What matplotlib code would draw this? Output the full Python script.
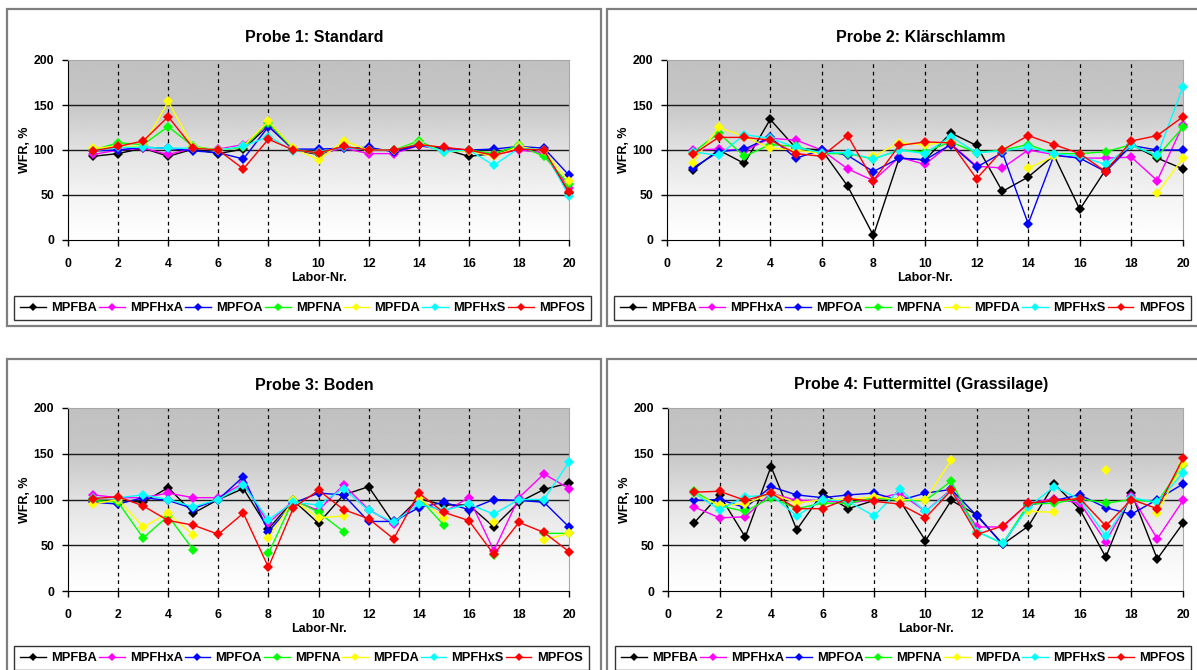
import numpy as np
import matplotlib
matplotlib.use('Agg')
import matplotlib.pyplot as plt
from matplotlib.patches import Rectangle
from matplotlib.lines import Line2D

plt.rcParams['font.family'] = ['Liberation Sans', 'DejaVu Sans']
plt.rcParams['font.weight'] = 'bold'

nan = np.nan

# -------------------------------
# Data
# -------------------------------
labs = list(range(1, 21))
series_names = ['MPFBA', 'MPFHxA', 'MPFOA', 'MPFNA', 'MPFDA', 'MPFHxS', 'MPFOS']
series_colors = ['#000000', '#ff00ff', '#0000ff', '#00ff00', '#ffff00', '#00ffff', '#ff0000']
titles = ['Probe 1: Standard', 'Probe 2: Klärschlamm', 'Probe 3: Boden',
          'Probe 4: Futtermittel (Grassilage)']
x_ticks = [0, 2, 4, 6, 8, 10, 12, 14, 16, 18, 20]
y_ticks = [0, 50, 100, 150, 200]

# Probe 1: Standard
p1_mpfba = [93, 96, 102, 93, 101, 96, 101, 127, 100, 95, 103, 100, 100, 105, 101, 93, 96, 104, 98, 52]
p1_mpfhxa = [95, 100, 102, 95, 102, 101, 106, 127, 100, 96, 102, 96, 96, 105, 100, 99, 95, 100, 97, 58]
p1_mpfoa = [99, 100, 103, 102, 99, 97, 90, 126, 101, 101, 102, 103, 98, 105, 102, 100, 101, 104, 102, 72]
p1_mpfna = [100, 108, 106, 126, 104, 100, 103, 130, 101, 96, 104, 100, 100, 110, 98, 100, 96, 105, 93, 62]
p1_mpfda = [102, 104, 104, 154, 103, 100, 104, 132, 102, 89, 110, 100, 100, 108, 98, 99, 93, 104, 99, 65]
p1_mpfhxs = [99, 103, 103, 102, 102, 100, 104, 115, 99, 98, 103, 100, 100, 107, 98, 100, 83, 102, 100, 49]
p1_mpfos = [99, 104, 110, 137, 102, 100, 79, 112, 100, 97, 104, 100, 100, 106, 103, 100, 94, 101, 100, 53]

# Probe 2: Klärschlamm
p2_mpfba = [78, 100, 85, 134, 102, 100, 60, 5, 91, 89, 119, 105, 54, 70, 94, 34, 78, 106, 91, 79]
p2_mpfhxa = [100, 101, 99, 113, 111, 100, 79, 66, 92, 84, 107, 82, 80, 100, 95, 91, 91, 92, 66, 128]
p2_mpfoa = [80, 98, 101, 114, 91, 100, 94, 76, 91, 89, 106, 81, 97, 18, 94, 91, 76, 105, 100, 100]
p2_mpfna = [97, 119, 93, 106, 104, 96, 96, 90, 100, 98, 109, 97, 100, 106, 96, 96, 98, 106, 93, 125]
p2_mpfda = [86, 125, 115, 102, 100, 96, nan, 93, 108, 106, 109, nan, nan, 80, 93, nan, nan, nan, 52, 91]
p2_mpfhxs = [98, 94, 117, 113, 103, 97, 97, 90, 100, 96, 115, 97, 99, 103, 96, 93, 84, 105, 94, 170]
p2_mpfos = [95, 114, 114, 111, 96, 93, 116, 66, 105, 109, 108, 68, 100, 116, 106, 96, 76, 110, 116, 137]

# Probe 3: Boden
p3_mpfba = [99, 99, 97, 113, 85, 100, 112, 68, 99, 74, 105, 114, 74, 101, 94, 94, 70, 97, 111, 118]
p3_mpfhxa = [105, 102, 102, 107, 102, 102, 118, 74, 99, 88, 116, 89, 73, 99, 86, 102, 44, 102, 128, 112]
p3_mpfoa = [97, 95, 102, 99, 90, 100, 125, 65, 96, 107, 105, 76, 76, 91, 97, 89, 100, 99, 97, 70]
p3_mpfna = [99, 97, 58, 82, 45, nan, nan, 41, 100, 86, 65, nan, nan, 102, 72, nan, 39, nan, 63, 63]
p3_mpfda = [95, 100, 70, 85, 61, nan, nan, 58, 99, 80, 82, nan, nan, 102, 80, nan, 75, nan, 56, 63]
p3_mpfhxs = [102, 102, 105, 100, 92, 100, 116, 78, 97, 94, 112, 88, 75, 95, 88, 95, 84, 100, 100, 141]
p3_mpfos = [101, 103, 93, 77, 72, 62, 85, 26, 91, 110, 89, 79, 57, 107, 86, 77, 40, 75, 64, 43]

# Probe 4: Futtermittel (Grassilage)
p4_mpfba = [74, 105, 59, 136, 67, 107, 90, 99, 99, 55, 99, 83, 51, 71, 117, 89, 37, 107, 35, 74]
p4_mpfhxa = [92, 80, 81, 107, 99, 99, 96, 100, 107, 87, 111, 70, 70, 96, 101, 96, 54, 104, 57, 99]
p4_mpfoa = [99, 100, 91, 114, 105, 102, 105, 107, 99, 107, 111, 82, 51, 94, 99, 105, 91, 84, 100, 117]
p4_mpfna = [109, 93, 87, 102, 90, 96, 96, 102, 99, 99, 120, 65, 52, 95, 96, 101, 96, 100, 97, 138]
p4_mpfda = [106, 94, 95, 107, 96, 100, 100, 103, 100, 100, 143, nan, nan, 87, 86, nan, 132, nan, 85, 139]
p4_mpfhxs = [107, 89, 103, 105, 82, 100, 98, 82, 111, 87, 110, 65, 52, 92, 114, 100, 60, 102, 97, 129]
p4_mpfos = [108, 109, 99, 107, 90, 90, 101, 98, 95, 80, 110, 62, 71, 96, 99, 101, 71, 100, 90, 145]

panels = [
    [p1_mpfba, p1_mpfhxa, p1_mpfoa, p1_mpfna, p1_mpfda, p1_mpfhxs, p1_mpfos],
    [p2_mpfba, p2_mpfhxa, p2_mpfoa, p2_mpfna, p2_mpfda, p2_mpfhxs, p2_mpfos],
    [p3_mpfba, p3_mpfhxa, p3_mpfoa, p3_mpfna, p3_mpfda, p3_mpfhxs, p3_mpfos],
    [p4_mpfba, p4_mpfhxa, p4_mpfoa, p4_mpfna, p4_mpfda, p4_mpfhxs, p4_mpfos],
]

# -------------------------------
# Layout in pixels
# -------------------------------
W, H = 1197, 670
# plot area: x0, x1, y_top, y_bottom
plot_px = [(68, 569, 60, 240), (667, 1183, 60, 240),
           (68, 569, 408, 591), (668, 1183, 408, 591)]
# outer chart boxes
box_px = [(7, 9, 601, 326), (607, 9, 1230, 326),
          (7, 359, 601, 700), (607, 359, 1230, 700)]
# legend boxes
legend_px = [(14, 293, 591, 323), (614, 293, 1191, 323),
             (14, 643, 589, 673), (615, 643, 1191, 673)]


def fx(px):
    return px / W


def fy(py):
    return 1 - py / H


fig = plt.figure(figsize=(W / 100, H / 100), dpi=100)
fig.patch.set_facecolor('white')

# background gradient (grey at top, white at bottom)
grad_y = np.linspace(200, 0, 200)
grad_v = np.interp(grad_y, [0, 50, 100, 150, 200], [1.0, 0.955, 0.885, 0.78, 0.755])
grad = grad_v[:, None]

for i in range(4):
    bx0, by0, bx1, by1 = box_px[i]
    fig.patches.append(Rectangle((fx(bx0), fy(by1)), fx(bx1 - bx0), (by1 - by0) / H,
                                 transform=fig.transFigure, facecolor='white',
                                 edgecolor='#7f7f7f', linewidth=1.6, zorder=-5))

    x0, x1, yt, yb = plot_px[i]
    ax = fig.add_axes([fx(x0), fy(yb), fx(x1 - x0), (yb - yt) / H])
    ax.set_zorder(2)
    ax.imshow(grad, extent=[0, 20, 0, 200], aspect='auto', cmap='gray',
              vmin=0, vmax=1, zorder=0, interpolation='bilinear')

    for yv in [50, 100, 150]:
        ax.axhline(yv, color='#1a1a1a', linewidth=1.0, zorder=1)
    for xv in range(2, 20, 2):
        ax.axvline(xv, color='#000000', linewidth=0.9, linestyle=(0, (3, 3)), zorder=1)

    for vals, name, col in zip(panels[i], series_names, series_colors):
        ax.plot(labs, vals, color=col, linewidth=1.0, marker='D', markersize=5,
                markeredgewidth=0, label=name, zorder=3, clip_on=False)

    ax.set_xlim(0, 20)
    ax.set_ylim(0, 200)
    ax.set_xticks(x_ticks)
    ax.set_yticks(y_ticks)
    ax.tick_params(direction='out', length=4, width=1, labelsize=8.8, pad=9)
    ax.tick_params(axis='y', pad=6)
    for lab in ax.get_xticklabels() + ax.get_yticklabels():
        lab.set_fontweight('bold')
    ax.spines['left'].set_color('black')
    ax.spines['bottom'].set_color('black')
    ax.spines['top'].set_color('#a8a8a8')
    ax.spines['right'].set_color('#a8a8a8')

    fig.text(fx((x0 + x1) / 2 - 4), fy(yt - 23), titles[i], ha='center', va='center',
             fontsize=11.5, fontweight='bold')
    fig.text(fx((x0 + x1) / 2), fy(yb + 38), 'Labor-Nr.', ha='center', va='center',
             fontsize=9, fontweight='bold')
    fig.text(fx(x0 - 43), fy((yt + yb) / 2), 'WFR, %', ha='center', va='center',
             rotation=90, fontsize=9, fontweight='bold')

    lx0, ly0, lx1, ly1 = legend_px[i]
    handles = [Line2D([0], [0], color=c, linewidth=1.0, marker='D', markersize=4.5,
                      markeredgewidth=0) for c in series_colors]
    leg = fig.legend(handles, series_names, loc='center',
                     bbox_to_anchor=(fx(lx0), fy(ly1), fx(lx1 - lx0), (ly1 - ly0) / H),
                     mode='expand', ncol=7, frameon=True, fancybox=False,
                     edgecolor='black', borderaxespad=0, handlelength=2.0,
                     handletextpad=0.4, borderpad=0.5,
                     prop={'size': 9.3, 'weight': 'bold'})
    leg.get_frame().set_linewidth(1.0)

fig.savefig('out.png', dpi=100)
